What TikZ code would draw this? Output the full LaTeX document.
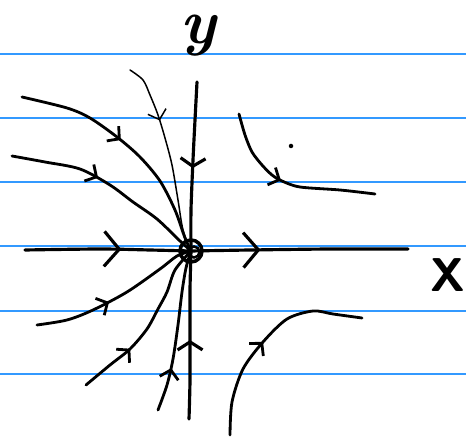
\documentclass[tikz,border=0pt]{standalone}
\usepackage{tikz}
\usetikzlibrary{arrows.meta,decorations.markings}
\definecolor{ruleblue}{RGB}{51,153,255}
\tikzset{
  paperrule/.style={draw=ruleblue, line width=0.8pt},
  axis/.style={line width=1.8pt, line cap=round, line join=round},
  traj/.style={line width=1.6pt, line cap=round, line join=round},
  thintraj/.style={traj, line width=0.85pt},
  flow/.style={postaction={decorate, decoration={markings,
      mark=at position #1 with {\arrow{Straight Barb[length=1.7mm,width=3.8mm]}}}}},
  wideflow/.style={postaction={decorate, decoration={markings,
      mark=at position #1 with {\arrow{Straight Barb[length=1.6mm,width=5mm]}}}}},
  bigflow/.style={postaction={decorate, decoration={markings,
      mark=at position #1 with {\arrow{Straight Barb[length=3mm,width=7mm]}}}}},
  fixpt/.style={draw, circle, line width=2pt, minimum size=4.4mm, inner sep=0pt},
  dotmark/.style={fill, circle, inner sep=0pt, minimum size=0.9mm},
  axislabel/.style={inner sep=0pt},
}

\begin{document}
\begin{tikzpicture}[x=0.02cm, y=-0.02cm]
\useasboundingbox (0,0) rectangle (466,438);

% ---------------- ruled paper ----------------
\foreach \r in {54,118,182,246,311,374}
  \draw[paperrule] (0,\r) -- (466,\r);

% ---------------- fixed point and axes ----------------
\node[fixpt] (O) at (191,251) {};
\draw[line width=1.4pt] (194,252) circle[radius=5.5];

\draw[axis, bigflow=0.58] plot[smooth] coordinates {(25,250) (100,249) (150,250) (O.center)};
\draw[axis, bigflow=0.32] plot[smooth] coordinates {(O.center) (250,250) (330,249) (408,249)};
\draw[axis, wideflow=0.51] plot[smooth] coordinates {(197,82) (195,120) (193,160) (191,210) (O.center)};
\draw[axis, wideflow=0.47] plot[smooth] coordinates {(189,419) (190,380) (190,330) (190,290) (O.center)};

\node[axislabel, font=\bfseries\itshape\fontsize{36}{36}\selectfont] (ylab) at (198,36) {y};
\node[axislabel, font=\sffamily\bfseries\fontsize{27}{27}\selectfont] (xlab) at (448,275) {X};

% ---------------- trajectories into the node ----------------
% upper left, all bending down into the origin
\draw[traj, flow=0.45] plot[smooth] coordinates
  {(22,97) (67,108) (90,118) (117,137) (140,157) (160,181) (175,210) (185,238) (O.center)};
\draw[traj, flow=0.43] plot[smooth] coordinates
  {(12,156) (45,162) (80,169) (110,185) (133,202) (157,219) (180,241) (O.center)};
\draw[thintraj, flow=0.31] plot[smooth] coordinates
  {(130,70) (143,80) (150,95) (158,115) (165,138) (172,165) (178,200) (183,230) (O.center)};

% lower left
\draw[traj, flow=0.44] plot[smooth] coordinates
  {(37,325) (67,320) (93,310) (127,292) (160,269) (177,256) (O.center)};
\draw[traj, flow=0.33] plot[smooth] coordinates
  {(86,385) (110,365) (130,349) (147,329) (158,309) (167,292) (175,270) (O.center)};
\draw[traj, flow=0.27] plot[smooth] coordinates
  {(158,410) (167,385) (173,359) (178,325) (182,292) (186,268) (O.center)};

% ---------------- right half-plane ----------------
\draw[traj, flow=0.46] plot[smooth] coordinates
  {(239,114) (245,135) (252,152) (262,165) (272,175) (282,181) (300,187) (340,190) (375,194)};
\node[dotmark] (speck) at (291,146) {};

\draw[traj, flow=0.48] plot[smooth] coordinates
  {(230,435) (232,402) (243,369) (263,342) (287,319) (313,311) (333,314) (362,318)};
\end{tikzpicture}
\end{document}
